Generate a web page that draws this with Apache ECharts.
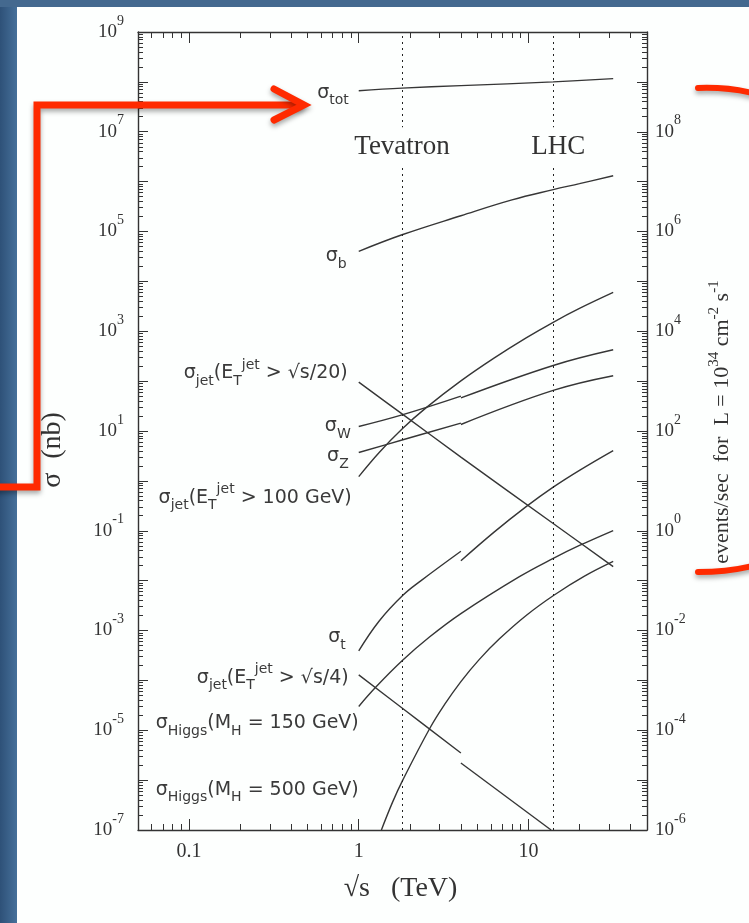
<!DOCTYPE html>
<html><head><meta charset="utf-8">
<script src="https://cdn.jsdelivr.net/npm/echarts@6/dist/echarts.min.js"></script>
<style>html,body{margin:0;padding:0;background:#fdfffe}#c{width:749px;height:923px}</style>
</head><body><div id="c"></div>
<script>
// ---------------- data (sqrt(s) in TeV, sigma in nb) ----------------
const tevatronSqrtS = 1.8;
const lhcSqrtS = 14;
const sigmaTot = [[1, 6.65e7], [1.8, 7.5e7], [4, 8.4e7], [14, 1.0e8], [31.6, 1.16e8]];
const sigmaB = [[1, 4.0e4], [1.8, 8.6e4], [4, 2.07e5], [8, 4.3e5], [14, 6.9e5], [20, 9.1e5], [31.6, 1.31e6]];
const sigmaJet20 = [[1, 95.5], [1.8, 22], [4, 3.0], [14, 0.14], [31.6, 0.0191]];
const sigmaW_ppbar = [[1, 12.3], [1.8, 21], [4, 50]];
const sigmaW_pp = [[4, 46], [14, 206], [31.6, 425]];
const sigmaZ_ppbar = [[1, 3.7], [1.8, 6.6], [4, 14.4]];
const sigmaZ_pp = [[4, 13.5], [14, 65], [31.6, 128]];
const sigmaJet100 = [[1, 1.22], [1.32, 3.72], [1.8, 11.0], [2.5, 29.4], [4, 101], [6.3, 292], [9.7, 736], [14, 1513], [20, 2860], [31.6, 5990]];
const sigmaTop_ppbar = [[1, 3.9e-4], [1.32, 1.55e-3], [1.82, 5.08e-3], [2.33, 0.0100], [4, 0.0388]];
const sigmaTop_pp = [[4, 0.025], [6.3, 0.095], [9.7, 0.305], [14, 0.75], [20, 1.63], [31.6, 4.06]];
const sigmaJet4_ppbar = [[1, 1.29e-4], [1.8, 2.8e-5], [4, 3.5e-6]];
const sigmaJet4_pp = [[4, 2.2e-6], [13.6, 1.0e-7]];
const sigmaHiggs150 = [[1, 3.0e-5], [1.27, 7.5e-5], [1.82, 2.55e-4], [2.6, 7.3e-4], [4, 2.18e-3], [8.85, 0.0120], [14.2, 0.0286], [20, 0.0507], [31.6, 0.101]];
const sigmaHiggs500 = [[1.36, 1.0e-7], [1.585, 3.66e-7], [1.82, 1.01e-6], [2.61, 1.06e-5], [3.2, 3.25e-5], [4, 9.46e-5], [5.14, 2.64e-4], [6.75, 6.8e-4], [9.7, 2.0e-3], [14.2, 5.15e-3], [21.4, 0.0123], [31.6, 0.0243]];
const higgs500LabelAnchor = [1, 6.4e-7];

// axis ranges / ticks
const xRange = [0.05, 50];
const yRange = [1e-7, 1e9];
const eventsPerNb = 10; // events/sec per nb at L = 1e34 cm^-2 s^-1
const xTickLabels = [0.1, 1, 10];
const yTickLabels = [1e-7, 1e-5, 1e-3, 1e-1, 1e1, 1e3, 1e5, 1e7, 1e9];
const rightTickLabels = [1e-6, 1e-4, 1e-2, 1, 1e2, 1e4, 1e6, 1e8];

// labels text
const curveLabelText = {
  tot: '{m|σ}{sb|tot}',
  b: '{m|σ}{sb|b}',
  jet20: '{m|σ}{sb|jet}{m|(E}{sb|T}{sp|jet}{m| > √s/20)}',
  W: '{m|σ}{sb|W}',
  Z: '{m|σ}{sb|Z}',
  jet100: '{m|σ}{sb|jet}{m|(E}{sb|T}{sp|jet}{m| > 100 GeV)}',
  t: '{m|σ}{sb|t}',
  jet4: '{m|σ}{sb|jet}{m|(E}{sb|T}{sp|jet}{m| > √s/4)}',
  h150: '{m|σ}{sb|Higgs}{m|(M}{sb|H}{m| = 150 GeV)}',
  h500: '{m|σ}{sb|Higgs}{m|(M}{sb|H}{m| = 500 GeV)}'
};

// ---------------- styling / building ----------------
const serif = "'Liberation Serif','Times New Roman',serif";
const sans = "'DejaVu Sans','Liberation Sans',sans-serif";
const ink = '#333';
const curveColor = '#363636';

function decadeList(lo, hi) { const r = []; for (let d = lo; d <= hi; d++) r.push(Math.pow(10, d)); return r; }
function minorList(lo, hi) { const r = []; for (let d = lo; d < hi; d++) for (let k = 2; k <= 9; k++) r.push(+(k * Math.pow(10, d)).toPrecision(3)); return r; }
const yMajor = decadeList(-7, 9);
const yMinor = minorList(-7, 9);
const rMajor = decadeList(-6, 10);
const xMinor = [0.06, 0.07, 0.08, 0.09].concat(minorList(-1, 1)).concat([20, 30, 40]);

const curveRich = {
  m: { fontFamily: sans, fontSize: 19, color: '#3a3a3a', lineHeight: 30, verticalAlign: 'middle' },
  sb: { fontFamily: sans, fontSize: 14, color: '#3a3a3a', lineHeight: 16, verticalAlign: 'bottom' },
  sp: { fontFamily: sans, fontSize: 14, color: '#3a3a3a', lineHeight: 14, verticalAlign: 'top' }
};
const powRich = {
  b: { fontFamily: serif, fontSize: 19, color: ink, lineHeight: 36, verticalAlign: 'middle' },
  s: { fontFamily: serif, fontSize: 14, color: ink, lineHeight: 14, verticalAlign: 'top' }
};
const powFmt = v => '{b|10}{s|' + Math.round(Math.log10(v)) + '}';

// label placement (style): [distance from curve start, vertical offset]
const labelPlace = {
  tot: [10, 2], b: [12, 5], jet20: [11, -9], W: [8, 0], Z: [10, 4], jet100: [7, 21],
  t: [13, -14], jet4: [10, 3], h150: [0, 17], h500: [0, 0]
};

function markLabel(key, coord) {
  const p = labelPlace[key];
  return {
    symbol: 'circle', symbolSize: 0, silent: true, animation: false,
    data: [{ coord: coord }],
    label: { show: true, position: 'left', distance: p[0], offset: [0, p[1]], formatter: curveLabelText[key], rich: curveRich }
  };
}

function curve(name, data, labelKey, labelCoord) {
  const s = {
    type: 'line', name: name, data: data, xAxisIndex: 0, yAxisIndex: 0,
    symbol: 'none', showSymbol: false, smooth: 0.4, silent: true, animation: false,
    lineStyle: { color: curveColor, width: 1.4 }, z: 3
  };
  if (labelKey) s.markPoint = markLabel(labelKey, labelCoord || data[0]);
  return s;
}

const series = [
  curve('tot', sigmaTot, 'tot'),
  curve('b', sigmaB, 'b'),
  curve('jet20', sigmaJet20, 'jet20'),
  curve('W1', sigmaW_ppbar, 'W'),
  curve('W2', sigmaW_pp),
  curve('Z1', sigmaZ_ppbar, 'Z'),
  curve('Z2', sigmaZ_pp),
  curve('jet100', sigmaJet100, 'jet100'),
  curve('t1', sigmaTop_ppbar, 't'),
  curve('t2', sigmaTop_pp),
  curve('jet4a', sigmaJet4_ppbar, 'jet4'),
  curve('jet4b', sigmaJet4_pp),
  curve('h150', sigmaHiggs150, 'h150'),
  curve('h500', sigmaHiggs500, 'h500', higgs500LabelAnchor)
];

// collider lines + names
series.push({
  type: 'line', name: 'colliders', data: [], xAxisIndex: 0, yAxisIndex: 0, silent: true, animation: false,
  markLine: {
    symbol: 'none', silent: true, animation: false,
    lineStyle: { color: '#222', width: 1, type: [2, 4] },
    label: { show: false },
    data: [{ xAxis: tevatronSqrtS }, { xAxis: lhcSqrtS }]
  },
  markPoint: {
    symbol: 'circle', symbolSize: 0, silent: true, animation: false, z: 10,
    label: {
      show: true, position: 'inside', fontFamily: serif, fontSize: 27, color: ink,
      backgroundColor: '#fdfffe', padding: [5, 2, 4, 2], lineHeight: 30
    },
    data: [
      { coord: [tevatronSqrtS, 5e6], label: { formatter: 'Tevatron' } },
      { coord: [lhcSqrtS, 5e6], label: { formatter: 'LHC', offset: [5, 0] } }
    ]
  }
});

function xAx(pos, ticks, len, labels, line) {
  return {
    type: 'log', min: xRange[0], max: xRange[1], position: pos, gridIndex: 0,
    axisLine: { show: line, lineStyle: { color: ink, width: 1.4 } },
    axisTick: { show: true, inside: true, length: len, customValues: ticks, lineStyle: { color: ink, width: 1 } },
    axisLabel: labels ? {
      show: true, customValues: xTickLabels, margin: 12, fontFamily: serif, fontSize: 20, color: ink,
      formatter: v => (v < 1 ? v.toFixed(1) : String(Math.round(v)))
    } : { show: false, customValues: ticks },
    splitLine: { show: false }, minorTick: { show: false }
  };
}
function yAx(pos, range, ticks, len, labelVals, line) {
  return {
    type: 'log', min: range[0], max: range[1], position: pos, gridIndex: 0,
    axisLine: { show: line, lineStyle: { color: ink, width: 1.4 } },
    axisTick: { show: true, inside: true, length: len, customValues: ticks, lineStyle: { color: ink, width: 1 } },
    axisLabel: labelVals ? {
      show: true, customValues: labelVals, margin: pos === 'left' ? 14 : 8, formatter: powFmt, rich: powRich
    } : { show: false, customValues: ticks },
    splitLine: { show: false }, minorTick: { show: false }
  };
}

const xAxes = [
  xAx('bottom', xTickLabels, 11, true, true),
  xAx('top', xTickLabels, 11, false, true),
  xAx('bottom', xMinor, 6, false, false),
  xAx('top', xMinor, 6, false, false)
];
Object.assign(xAxes[0], {
  name: '√s   (TeV)', nameLocation: 'middle', nameGap: 45,
  nameTextStyle: { fontFamily: serif, fontSize: 28, color: ink, padding: [0, 0, 0, 16] }
});
const yAxes = [
  yAx('left', yRange, yMajor, 10, yTickLabels, true),
  yAx('right', [yRange[0] * eventsPerNb, yRange[1] * eventsPerNb], rMajor, 10, rightTickLabels, true),
  yAx('left', yRange, yMinor, 5, null, false),
  yAx('right', yRange, yMinor, 5, null, false)
];
Object.assign(yAxes[0], {
  name: 'σ  (nb)', nameLocation: 'middle', nameGap: 71, nameRotate: 90,
  nameTextStyle: { fontFamily: serif, fontSize: 28, color: ink, padding: [0, 38, 0, 0] }
});
Object.assign(yAxes[1], {
  name: '{m|events/sec  for  L = 10}{s|34}{m| cm}{s|-2}{m| s}{s|-1}', nameLocation: 'middle', nameGap: 60, nameRotate: 90,
  nameTextStyle: {
    padding: [0, 0, 0, 18],
    rich: {
      m: { fontFamily: serif, fontSize: 22, color: ink, lineHeight: 30, verticalAlign: 'middle' },
      s: { fontFamily: serif, fontSize: 15, color: ink, lineHeight: 15, verticalAlign: 'top' }
    }
  }
});

const red = '#ff2a00';
const redStyle = { stroke: red, lineWidth: 7, fill: null, lineJoin: 'miter', lineCap: 'round',
  shadowBlur: 5, shadowColor: 'rgba(0,0,0,0.35)', shadowOffsetY: 3 };

const option = {
  backgroundColor: '#fdfffe',
  animation: false,
  grid: { left: 138, right: 102, top: 32, bottom: 93, containLabel: false, outerBoundsMode: 'none' },
  xAxis: xAxes,
  yAxis: yAxes,
  series: series,
  graphic: [
    { type: 'rect', z: 100, silent: true, shape: { x: 0, y: 0, width: 17, height: 923 },
      style: { fill: new echarts.graphic.LinearGradient(0, 0, 1, 0, [{ offset: 0, color: '#2e5178' }, { offset: 1, color: '#46709a' }]) } },
    { type: 'rect', z: 100, silent: true, shape: { x: 0, y: 0, width: 749, height: 7 }, style: { fill: '#44698f' } },
    { type: 'polyline', z: 101, silent: true, shape: { points: [[-5, 487], [37, 487], [37, 105], [300, 105]] }, style: redStyle },
    { type: 'polyline', z: 101, silent: true, shape: { points: [[274, 89], [304, 105], [274, 120]] }, style: redStyle },
    { type: 'bezierCurve', z: 101, silent: true, shape: { x1: 698, y1: 88, cpx1: 728, cpy1: 87, x2: 752, y2: 93 }, style: Object.assign({}, redStyle, { lineWidth: 6 }) },
    { type: 'bezierCurve', z: 101, silent: true, shape: { x1: 698, y1: 572, cpx1: 728, cpy1: 572, x2: 752, y2: 566 }, style: Object.assign({}, redStyle, { lineWidth: 6 }) }
  ]
};

const chart = echarts.init(document.getElementById('c'), null, { renderer: 'canvas' });
chart.setOption(option);
</script>
</body></html>
